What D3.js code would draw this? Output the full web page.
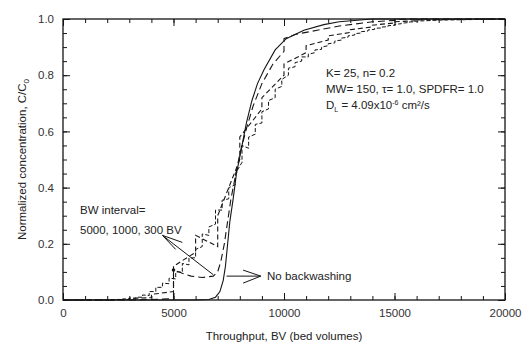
<!DOCTYPE html>
<html>
<head>
<meta charset="utf-8">
<script src="https://cdn.jsdelivr.net/npm/d3@7"></script>
<style>
  html, body { margin: 0; padding: 0; background: #fff; }
  svg { display: block; font-family: "Liberation Sans", Arial, sans-serif; }
</style>
</head>
<body>
<div id="chart"></div>
<script>
// throughput (BV) / normalized concentration C/C0
const noBackwash = [
  [0, 0], [6000, 0], [6600, 0.002], [6900, 0.01], [7100, 0.03], [7250, 0.07],
  [7350, 0.12], [7450, 0.2], [7550, 0.28], [7700, 0.36], [7850, 0.45],
  [8050, 0.53], [8300, 0.63], [8550, 0.71], [8800, 0.77], [9100, 0.82],
  [9600, 0.89], [10100, 0.93], [10900, 0.96], [11800, 0.98], [12500, 0.99],
  [14000, 1.0], [20000, 1.0]
];

// BW every 5000 BV: [BV, C before backwash, C after backwash]
const bw5000Start = [[0, 0], [3000, 0], [4500, 0.003]];
const bw5000 = [
  [5000, 0.005, 0.107], [10000, 0.885, 0.93], [15000, 0.995, 0.998]
];
const bw5000Between = [
  [5400, 0.095], [5800, 0.085], [6300, 0.08], [6800, 0.085], [7000, 0.1],
  [7150, 0.14], [7300, 0.2], [7450, 0.28], [7600, 0.36], [7800, 0.44],
  [8000, 0.52], [8300, 0.61], [8600, 0.69], [9000, 0.77], [9500, 0.84],
  [10500, 0.945], [11500, 0.96], [12500, 0.975], [14000, 0.99],
  [16000, 1.0], [20000, 1.0]
];

// BW every 1000 BV
const bw1000Start = [[0, 0], [1000, 0]];
const bw1000 = [
  [2000, 0, 0.002], [3000, 0.002, 0.006], [4000, 0.008, 0.02],
  [5000, 0.03, 0.12], [6000, 0.17, 0.23], [7000, 0.19, 0.3],
  [8000, 0.5, 0.58], [9000, 0.68, 0.72], [10000, 0.8, 0.84],
  [11000, 0.88, 0.905], [12000, 0.925, 0.94], [13000, 0.952, 0.962],
  [14000, 0.972, 0.978], [15000, 0.986, 0.99], [16000, 0.994, 0.997]
];
const bw1000End = [[20000, 1.0]];

// BW every 300 BV
const bw300Start = [[0, 0], [2100, 0]];
const bw300 = [
  [2400, 0, 0.002], [2700, 0.002, 0.004], [3000, 0.004, 0.007],
  [3300, 0.006, 0.01], [3600, 0.01, 0.018], [3900, 0.016, 0.03],
  [4200, 0.03, 0.045], [4500, 0.045, 0.06], [4800, 0.058, 0.078],
  [5100, 0.075, 0.1], [5400, 0.1, 0.13], [5700, 0.125, 0.15],
  [6000, 0.15, 0.18], [6300, 0.19, 0.235], [6600, 0.23, 0.26],
  [6900, 0.27, 0.32], [7200, 0.32, 0.355], [7500, 0.36, 0.4],
  [7800, 0.41, 0.45], [8100, 0.49, 0.55], [8400, 0.54, 0.58],
  [8700, 0.59, 0.625], [9000, 0.63, 0.67], [9300, 0.68, 0.71],
  [9600, 0.72, 0.75], [9900, 0.76, 0.785], [10200, 0.8, 0.825],
  [10500, 0.83, 0.845], [10800, 0.85, 0.865], [11100, 0.865, 0.875],
  [11400, 0.88, 0.89], [11700, 0.892, 0.9], [12000, 0.905, 0.912],
  [12300, 0.915, 0.922], [12600, 0.925, 0.932], [12900, 0.935, 0.94],
  [13200, 0.943, 0.948], [13500, 0.95, 0.955], [13800, 0.957, 0.961],
  [14100, 0.963, 0.967], [14400, 0.968, 0.971], [14700, 0.973, 0.976],
  [15000, 0.978, 0.981], [15300, 0.983, 0.985], [15600, 0.987, 0.989],
  [15900, 0.99, 0.992]
];
const bw300End = [[17000, 0.996], [20000, 1.0]];

const xMajor = [0, 5000, 10000, 15000, 20000];
const xMinor = d3.range(0, 20001, 1000);
const yMajor = [0, 0.2, 0.4, 0.6, 0.8, 1.0];
const yMinor = d3.range(0, 1.0001, 0.05);

const paramLines = ["K= 25, n= 0.2", "MW= 150, \u03c4= 1.0, SPDFR= 1.0"];

const width = 523, height = 344;
const margin = { top: 19, right: 18, bottom: 44, left: 63 };

const x = d3.scaleLinear([0, 20000], [margin.left, width - margin.right]);
const y = d3.scaleLinear([0, 1], [height - margin.bottom, margin.top]);

const svg = d3.select("#chart").append("svg")
  .attr("width", width)
  .attr("height", height);

// sawtooth: pre-jump point then post-jump point at each backwash
function saw(start, jumps, end, extra = []) {
  const pts = start.slice();
  const all = jumps.map(d => ({ bv: d[0], p: [[d[0], d[1]], [d[0], d[2]]] }))
    .concat(extra.map(d => ({ bv: d[0], p: [d] })));
  all.sort((a, b) => a.bv - b.bv);
  all.forEach(a => pts.push(...a.p));
  return pts.concat(end);
}

const line = d3.line().x(d => x(d[0])).y(d => y(d[1]));

const ink = "#151515";

// axes: inward ticks on all four sides
function addAxis(axisFn, scale, transform, values, size, labels, pad) {
  const ax = axisFn(scale).tickValues(values).tickSize(-size).tickPadding(pad || 3);
  if (!labels) ax.tickFormat("");
  else ax.tickFormat(d3.format(scale === y ? ".1f" : "d"));
  const g = svg.append("g").attr("transform", transform).call(ax);
  g.select(".domain").remove();
  g.selectAll("line").attr("stroke", ink).attr("stroke-width", 1);
  g.selectAll("text").attr("fill", "#333").attr("font-size", 11.5);
  return g;
}

const tBottom = `translate(0,${y(0)})`, tTop = `translate(0,${y(1)})`;
const tLeft = `translate(${x(0)},0)`, tRight = `translate(${x(20000)},0)`;

addAxis(d3.axisBottom, x, tBottom, xMinor, 4, false);
addAxis(d3.axisBottom, x, tBottom, xMajor, 7, true, 9);
addAxis(d3.axisTop, x, tTop, xMinor, 4, false);
addAxis(d3.axisTop, x, tTop, xMajor, 7, false);
addAxis(d3.axisLeft, y, tLeft, yMinor, 4, false);
addAxis(d3.axisLeft, y, tLeft, yMajor, 7, true, 9);
addAxis(d3.axisRight, y, tRight, yMinor, 4, false);
addAxis(d3.axisRight, y, tRight, yMajor, 7, false);

svg.append("rect")
  .attr("x", x(0)).attr("y", y(1))
  .attr("width", x(20000) - x(0)).attr("height", y(0) - y(1))
  .attr("fill", "none").attr("stroke", ink).attr("stroke-width", 1.3);

// curves
const curves = [
  { pts: noBackwash, dash: null, w: 1.1 },
  { pts: saw(bw5000Start, bw5000, [], bw5000Between), dash: "7,4", w: 1.1 },
  { pts: saw(bw1000Start, bw1000, bw1000End), dash: "5,3", w: 1.1 },
  { pts: saw(bw300Start, bw300, bw300End), dash: "4,2", w: 1 }
];

svg.append("g")
  .selectAll("path")
  .data(curves)
  .join("path")
    .attr("d", d => line(d.pts))
    .attr("fill", "none")
    .attr("stroke", ink)
    .attr("stroke-width", d => d.w)
    .attr("stroke-dasharray", d => d.dash);

// dot at the 5000 BV backwash
svg.append("circle")
  .attr("cx", x(5000)).attr("cy", y(0.107)).attr("r", 1.8).attr("fill", ink);

// parameter text
const params = svg.append("text")
  .attr("x", 326).attr("y", 77)
  .attr("font-size", 11.5).attr("fill", "#222");
paramLines.forEach((t, i) => {
  params.append("tspan").attr("x", 326).attr("dy", i ? 16 : 0).text(t);
});
const dl = params.append("tspan").attr("x", 326).attr("dy", 16);
dl.append("tspan").text("D");
dl.append("tspan").attr("font-size", 7).attr("dy", 3).text("L");
dl.append("tspan").attr("dy", -3).text(" = 4.09x10");
dl.append("tspan").attr("font-size", 7).attr("dy", -4).text("-6");
dl.append("tspan").attr("dy", 4).text(" cm\u00b2/s");

// BW interval annotation
svg.append("text")
  .attr("x", 80).attr("y", 214)
  .attr("font-size", 11.5).attr("fill", "#222")
  .text("BW interval=");
svg.append("text")
  .attr("x", 80).attr("y", 234)
  .attr("font-size", 11.5).attr("fill", "#222")
  .text("5000, 1000, 300 BV");

const bwTip = [x(4500), y(0.23)];
const bwEnd = [x(6800), y(0.09)];
svg.append("path")
  .attr("d", `M${bwEnd}L${bwTip}M${x(5400)},${y(0.205)}L${bwTip}L${x(5100)},${y(0.18)}`)
  .attr("fill", "none").attr("stroke", ink).attr("stroke-width", 1);

// No backwashing annotation
const nbY = y(0.085);
svg.append("path")
  .attr("d", `M${x(7400)},${nbY}L${x(8950)},${nbY}` +
             `M${x(8150)},${nbY - 6}L${x(8950)},${nbY}L${x(8150)},${nbY + 7}`)
  .attr("fill", "none").attr("stroke", ink).attr("stroke-width", 1);
svg.append("text")
  .attr("x", 267).attr("y", nbY + 4)
  .attr("font-size", 11.5).attr("fill", "#222")
  .text("No backwashing");

// axis titles
svg.append("text")
  .attr("x", (x(0) + x(20000)) / 2).attr("y", 340)
  .attr("text-anchor", "middle")
  .attr("font-size", 11.5).attr("fill", "#222")
  .text("Throughput, BV (bed volumes)");

const yt = svg.append("text")
  .attr("transform", `translate(26,${(y(0) + y(1)) / 2}) rotate(-90)`)
  .attr("text-anchor", "middle")
  .attr("font-size", 11.5).attr("fill", "#222");
yt.append("tspan").text("Normalized concentration, C/C");
yt.append("tspan").attr("font-size", 8).attr("dy", 3).text("0");
</script>
</body>
</html>
